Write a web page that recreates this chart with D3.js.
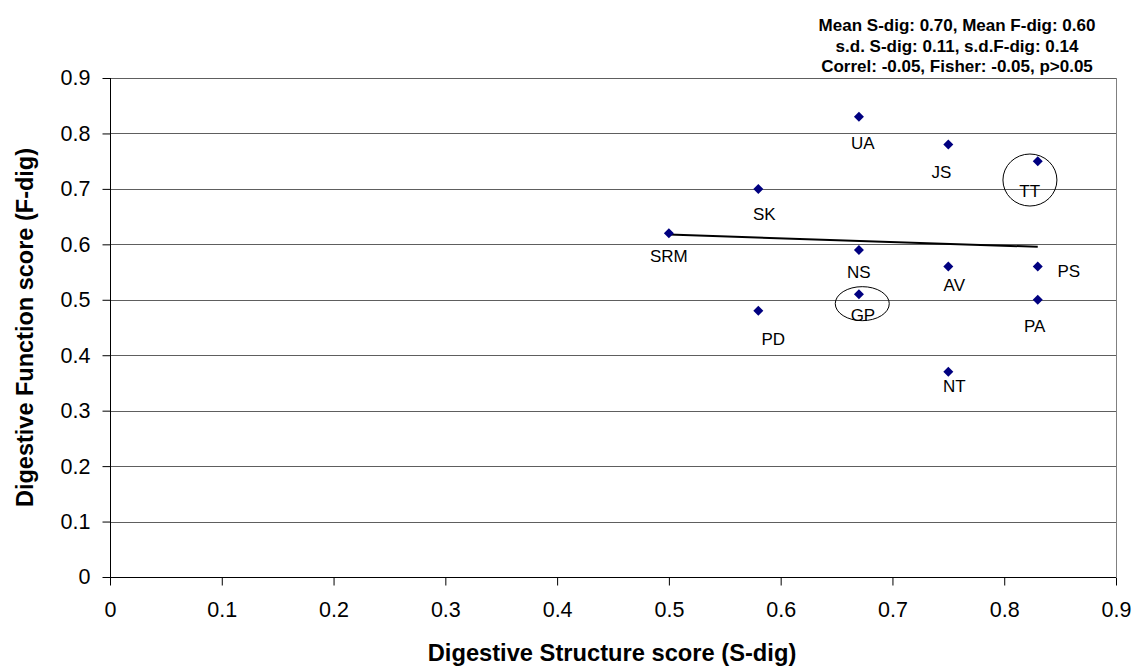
<!DOCTYPE html>
<meta charset="utf-8">
<script src="https://cdn.jsdelivr.net/npm/d3@7/dist/d3.min.js"></script>
<style>
  body { margin: 0; background: #fff; }
  svg text { font-family: "Liberation Sans", Arial, sans-serif; fill: #000; }
  .grid line { stroke: #5e5e5e; }
</style>
<div id="chart"></div>
<script>
// data
var names  = ["UA", "SK", "SRM", "NS", "GP", "PD", "JS", "TT", "PS", "AV", "PA", "NT"];
var sDig   = [0.67, 0.58, 0.50, 0.67, 0.67, 0.58, 0.75, 0.83, 0.83, 0.75, 0.83, 0.75];
var fDig   = [0.83, 0.70, 0.62, 0.59, 0.51, 0.48, 0.78, 0.75, 0.56, 0.56, 0.50, 0.37];
var tickVals = [0, 0.1, 0.2, 0.3, 0.4, 0.5, 0.6, 0.7, 0.8, 0.9];
var statLines = [
  "Mean S-dig: 0.70, Mean F-dig: 0.60",
  "s.d. S-dig: 0.11, s.d.F-dig: 0.14",
  "Correl: -0.05, Fisher: -0.05, p>0.05"
];
// circled points (TT and GP), centre in data units
var circled = [
  {cx: 0.823, cy: 0.716, rx: 27, ry: 26},
  {cx: 0.673, cy: 0.493, rx: 27, ry: 17}
];

// label nudges in px (Excel put them a bit differently for each point)
var labelNudge = {
  UA: [4, 26], SK: [6, 25], SRM: [0, 23], NS: [0, 22], GP: [4, 21], PD: [15, 28],
  JS: [-7, 28], TT: [-8, 30], PS: [31, 5], AV: [6, 19], PA: [-3, 26], NT: [6, 14]
};

var W = 1135, H = 668;
var margin = {top: 78, right: 19, bottom: 91, left: 110};
var width = W - margin.left - margin.right,
    height = H - margin.top - margin.bottom;

var svg = d3.select("#chart").append("svg")
    .attr("width", W).attr("height", H);
var g = svg.append("g")
    .attr("transform", "translate(" + margin.left + "," + margin.top + ")");

var x = d3.scaleLinear().domain([0, 0.9]).range([0, width]);
var y = d3.scaleLinear().domain([0, 0.9]).range([height, 0]);

// gridlines
g.append("g").attr("class", "grid")
  .selectAll("line").data(tickVals.slice(1)).enter().append("line")
    .attr("x1", 0).attr("x2", width)
    .attr("y1", function(d) { return Math.round(y(d)) + 0.5; })
    .attr("y2", function(d) { return Math.round(y(d)) + 0.5; });

// right border
g.append("line")
  .attr("x1", width + 0.5).attr("x2", width + 0.5)
  .attr("y1", 0).attr("y2", height)
  .attr("stroke", "#808080");

// axes
var fmt = function(d) { return d === 0 ? "0" : d3.format(".1f")(d); };
var yAxis = g.append("g")
  .attr("transform", "translate(0.5,0)")
  .call(d3.axisLeft(y).tickValues(tickVals).tickSize(8).tickPadding(12).tickFormat(fmt));
var xAxis = g.append("g")
  .attr("transform", "translate(0," + (height + 0.5) + ")")
  .call(d3.axisBottom(x).tickValues(tickVals).tickSize(8).tickPadding(16).tickFormat(fmt));

[xAxis, yAxis].forEach(function(a) {
  a.attr("font-family", null).attr("font-size", null);
  a.selectAll("text").style("font-size", "21.5px");
  a.selectAll("line, path").attr("stroke", "#000");
  a.select(".domain").attr("d", a === xAxis ? "M0,0H" + width : "M0,0V" + height);
});

// trendline: least squares over the points
var mx = d3.mean(sDig), my = d3.mean(fDig);
var sxy = d3.sum(sDig, function(v, i) { return (v - mx) * (fDig[i] - my); });
var sxx = d3.sum(sDig, function(v) { return (v - mx) * (v - mx); });
var slope = sxy / sxx, icpt = my - slope * mx;
g.append("path")
  .datum(d3.extent(sDig))
  .attr("fill", "none")
  .attr("stroke", "#000")
  .attr("stroke-width", 2)
  .attr("d", d3.line()
    .x(function(d) { return x(d); })
    .y(function(d) { return y(icpt + slope * d); }));

// markers
var pts = names.map(function(n, i) { return {name: n, s: sDig[i], f: fDig[i]}; });
g.selectAll(".pt").data(pts).enter().append("path")
  .attr("class", "pt")
  .attr("d", d3.symbol().type(d3.symbolSquare).size(50))
  .attr("transform", function(d) {
    return "translate(" + x(d.s) + "," + y(d.f) + ") rotate(45)";
  })
  .attr("fill", "#000080");

// point labels
g.selectAll(".lbl").data(pts).enter().append("text")
  .attr("class", "lbl")
  .attr("x", function(d) { return x(d.s) + labelNudge[d.name][0]; })
  .attr("y", function(d) { return y(d.f) + labelNudge[d.name][1]; })
  .attr("text-anchor", "middle")
  .attr("dy", "0.35em")
  .style("font-size", "17px")
  .text(function(d) { return d.name; });

// hand drawn ellipses
g.selectAll(".ring").data(circled).enter().append("ellipse")
  .attr("cx", function(d) { return x(d.cx); })
  .attr("cy", function(d) { return y(d.cy); })
  .attr("rx", function(d) { return d.rx; })
  .attr("ry", function(d) { return d.ry; })
  .attr("fill", "none")
  .attr("stroke", "#000")
  .attr("stroke-width", 1);

// axis titles
svg.append("text")
  .attr("x", 612)
  .attr("y", 661)
  .attr("text-anchor", "middle")
  .style("font-size", "23.7px").style("font-weight", "bold")
  .text("Digestive Structure score (S-dig)");

svg.append("text")
  .attr("transform", "translate(33," + (margin.top + height / 2) + ") rotate(-90)")
  .attr("text-anchor", "middle")
  .style("font-size", "23.5px").style("font-weight", "bold")
  .text("Digestive Function score (F-dig)");

// stats box text
svg.selectAll(".stat").data(statLines).enter().append("text")
  .attr("class", "stat")
  .attr("x", 957)
  .attr("y", function(d, i) { return 31 + i * 20.5; })
  .attr("text-anchor", "middle")
  .style("font-size", "17px").style("font-weight", "bold")
  .text(function(d) { return d; });
</script>
